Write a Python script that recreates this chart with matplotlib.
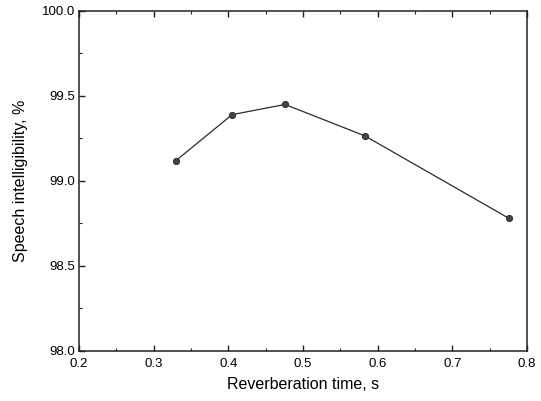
import matplotlib
matplotlib.use("Agg")
import matplotlib.pyplot as plt
from matplotlib.ticker import MultipleLocator

# data
reverb_time = [0.330, 0.405, 0.476, 0.583, 0.776]
intelligibility = [99.12, 99.39, 99.45, 99.265, 98.78]

plt.rcParams["font.family"] = ["Liberation Sans", "DejaVu Sans"]

fig = plt.figure(figsize=(5.41, 4.01), dpi=100)
ax = fig.add_axes([0.146, 0.1247, 0.828, 0.848])

ax.plot(reverb_time, intelligibility, color="#2a2a2a", linewidth=0.9,
        marker="o", markersize=4.5, markerfacecolor="#444444",
        markeredgecolor="#222222", markeredgewidth=0.6)

ax.set_xlim(0.2, 0.8)
ax.set_ylim(98.0, 100.0)
ax.xaxis.set_major_locator(MultipleLocator(0.1))
ax.xaxis.set_minor_locator(MultipleLocator(0.05))
ax.yaxis.set_major_locator(MultipleLocator(0.5))
ax.yaxis.set_minor_locator(MultipleLocator(0.25))
ax.xaxis.set_major_formatter(plt.FormatStrFormatter("%.1f"))
ax.yaxis.set_major_formatter(plt.FormatStrFormatter("%.1f"))

ax.tick_params(which="both", direction="in", top=True, right=False,
               labelsize=9.5, color="#222222")
ax.tick_params(axis="x", which="both", pad=5)
ax.tick_params(axis="y", which="both", pad=3)
ax.tick_params(which="major", length=4, width=1)
ax.tick_params(which="minor", length=2.5, width=0.8)

for sp in ax.spines.values():
    sp.set_linewidth(1.1)
    sp.set_color("#222222")

ax.set_xlabel("Reverberation time, s", fontsize=11.5, labelpad=5)
ax.set_ylabel("Speech intelligibility, %", fontsize=11.5, labelpad=10)

fig.savefig("out.png", dpi=100)
plt.close(fig)
